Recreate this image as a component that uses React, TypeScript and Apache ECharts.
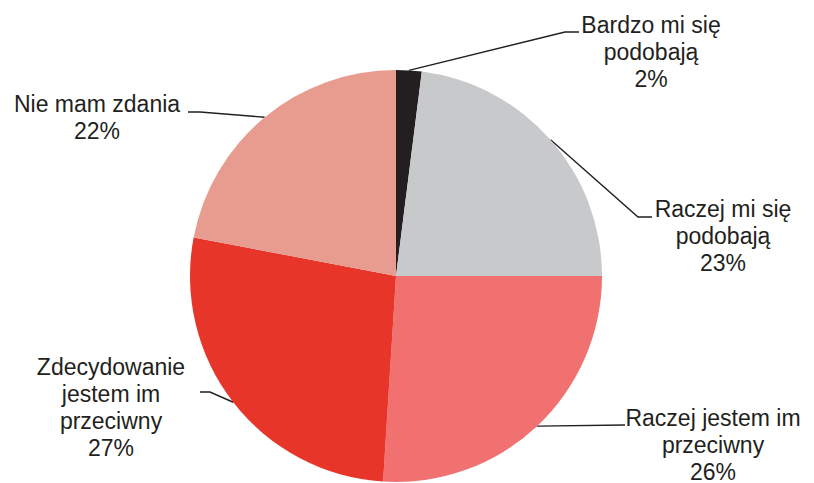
import React, { useEffect, useRef } from "react";
import * as echarts from "echarts";

const categories = [
  "Bardzo mi się\npodobają",
  "Raczej mi się\npodobają",
  "Raczej jestem im\nprzeciwny",
  "Zdecydowanie\njestem im\nprzeciwny",
  "Nie mam zdania",
];
const values = [2, 23, 26, 27, 22];
const colors = ["#231f20", "#c8c9cb", "#f07170", "#e8352a", "#e89c90"];

// label placement: text centre x, top y, then leader line elbow and end
const labelSpots = [
  { x: 651, y: 11, elbow: [565, 32], end: [579, 32] },
  { x: 723, y: 195, elbow: [638, 217], end: [652, 217] },
  { x: 713, y: 404, elbow: [600, 425], end: [625, 425] },
  { x: 111, y: 353, elbow: [210, 392], end: [200, 392] },
  { x: 97, y: 90, elbow: [200, 112], end: [188, 112] },
];

export default function App() {
  const ref = useRef<HTMLDivElement>(null);
  useEffect(() => {
    if (!ref.current) return;
    const chart = echarts.init(ref.current, undefined, { renderer: "svg" });
    chart.setOption({
      animation: false,
      backgroundColor: "#ffffff",
      series: [
        {
          type: "pie",
          center: [396, 276],
          radius: 206,
          startAngle: 90,
          clockwise: true,
          avoidLabelOverlap: false,
          data: categories.map((name, i) => ({
            name,
            value: values[i],
            itemStyle: { color: colors[i] },
          })),
          itemStyle: { borderWidth: 0 },
          label: {
            show: true,
            position: "outside",
            formatter: "{b}\n{c}%",
            fontFamily: "Liberation Sans, Arial, sans-serif",
            fontSize: 23,
            lineHeight: 27,
            color: "#231f20",
            align: "center",
          },
          labelLine: {
            show: true,
            lineStyle: { color: "#231f20", width: 1.4 },
          },
          labelLayout: (params: any) => {
            const s = labelSpots[params.dataIndex];
            const start = params.labelLinePoints
              ? params.labelLinePoints[0]
              : s.elbow;
            const pts =
              params.dataIndex === 2
                ? [start, s.end]
                : [start, s.elbow, s.end];
            return {
              x: s.x,
              y: s.y,
              align: "center",
              verticalAlign: "top",
              labelLinePoints: pts,
            };
          },
          emphasis: { disabled: true },
        },
      ],
    });
    return () => chart.dispose();
  }, []);
  return (
    <div
      ref={ref}
      style={{ position: "fixed", left: 0, top: 0, width: 814, height: 483 }}
    />
  );
}
